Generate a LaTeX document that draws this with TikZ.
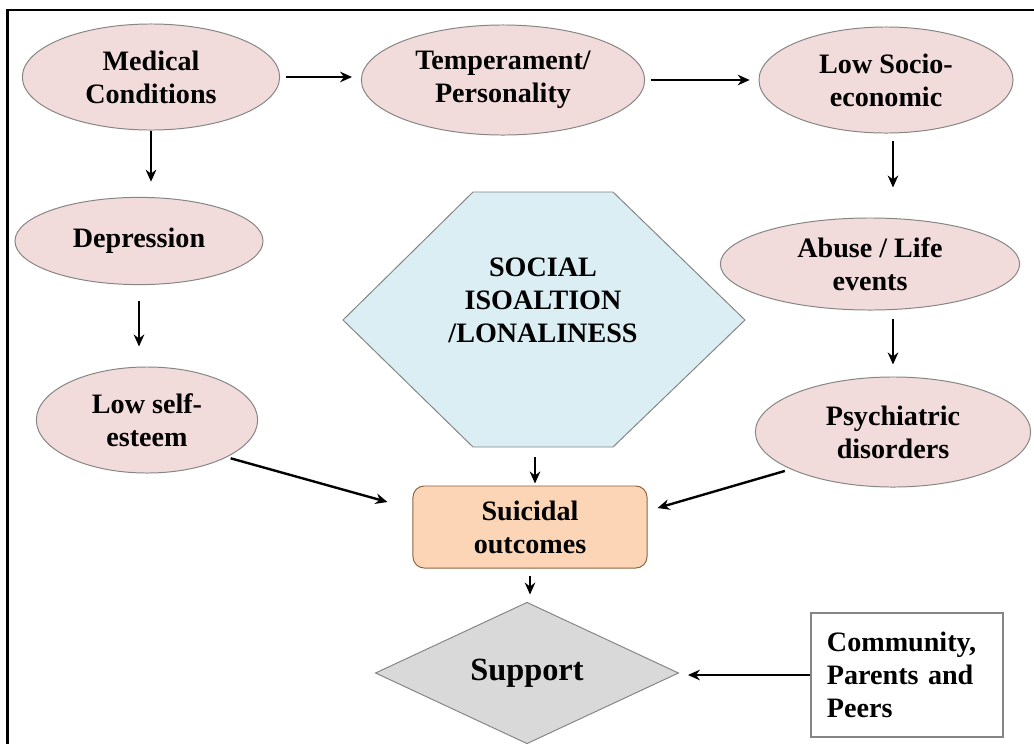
\documentclass[tikz,border=0pt]{standalone}
\usepackage{fontspec}
\setmainfont{Liberation Serif}
\usepackage{tikz}
\usetikzlibrary{arrows.meta,shapes.geometric,calc}
\definecolor{pinkfill}{HTML}{F2DCDB}
\definecolor{hexfill}{HTML}{DBEEF4}
\definecolor{outfill}{HTML}{FBD5B5}
\definecolor{outbrown}{HTML}{8E6441}
\definecolor{supfill}{HTML}{D9D9D9}
\definecolor{edgegray}{HTML}{858585}

\begin{document}
\begin{tikzpicture}[x=0.025cm,y=-0.025cm,>={Stealth[length=8.5pt,width=7.5pt]},
  font=\fontsize{20}{23.5}\selectfont\bfseries,
  oval/.style={ellipse,draw=edgegray,fill=pinkfill,line width=0.7pt,align=center,inner sep=0pt},
  outcome/.style={draw=outbrown,fill=outfill,line width=0.7pt,rounded corners=8pt,align=center,
                  minimum width=5.85cm,minimum height=2.05cm},
  help/.style={diamond,draw=edgegray,fill=supfill,line width=0.7pt,inner sep=0pt,
               minimum width=7.58cm,minimum height=3.28cm},
  peers/.style={draw=edgegray,fill=white,line width=1.1pt,align=left,text width=4cm,
                minimum height=3.1cm,inner sep=0.4cm},
  arr/.style={->,line width=1.7pt}]
\useasboundingbox (0,0) rectangle (1034,744);
\draw[line width=2pt] (7.5,744) -- (7.5,10) -- (1034,10);

\node[oval,minimum width=6.43cm,minimum height=2.65cm] (med) at (151,77) {Medical\\Conditions};
\node[oval,minimum width=7.08cm,minimum height=2.75cm] (temp) at (503,80) {Temperament/\\Personality};
\node[oval,minimum width=6.35cm,minimum height=2.65cm] (socio) at (886,80) {Low Socio-\\economic};
\node[oval,minimum width=6.2cm,minimum height=2.18cm] (dep) at (139,241) {Depression};
\node[oval,minimum width=7.48cm,minimum height=2.3cm] (abuse) at (870,264) {Abuse / Life\\events};
\node[oval,minimum width=5.53cm,minimum height=2.65cm] (selfe) at (147,420) {Low self-\\esteem};
\node[oval,minimum width=6.88cm,minimum height=2.75cm] (psych) at (893,432) {Psychiatric\\disorders};

\draw[draw=edgegray,fill=hexfill,line width=0.7pt] (343,320) -- (473,192) -- (613,192) -- (745,320)
  -- (613,447) -- (473,447) -- cycle;
\node[align=center] (iso) at (543,300) {SOCIAL\\ISOALTION\\/LONALINESS};
\coordinate (isob) at (535,447);

\node[outcome] (suic) at (530,527) {Suicidal\\outcomes};
\node[help,font=\fontsize{23}{26}\selectfont\bfseries] (sup) at (527,673) {Support};
\node[peers] (comm) at (907,675) {Community,\\Parents and\\Peers};

\draw[arr,shorten <=0.15cm,shorten >=0.22cm] (med.east) -- (med.east -| temp.west);
\draw[arr,shorten <=0.14cm,shorten >=0.22cm] (temp.east) -- (temp.east -| socio.west);
\draw[arr,shorten >=0.38cm] (med.south) -- (med.south |- dep.north);
\draw[arr,shorten <=0.39cm,shorten >=0.5cm] (dep.south) -- (dep.south |- selfe.north);
\draw[arr,shorten <=0.18cm,shorten >=0.75cm] (socio.south -| psych.north) -- (abuse.north -| psych.north);
\draw[arr,shorten <=0.2cm,shorten >=0.3cm] (abuse.south -| psych.north) -- (psych.north);
\draw[arr,shorten <=0.1cm] (selfe.-25) -- ($(suic.west)+(-25,-25)$);
\draw[arr,shorten <=0.15cm] (psych.200) -- ($(suic.east)+(10,-19)$);
\draw[arr,shorten <=0.25cm,shorten >=0.05cm] (isob) -- (isob |- suic.north);
\draw[arr,shorten <=0.18cm,shorten >=0.18cm] (suic.south) -- (suic.south |- sup.north);
\draw[arr,shorten >=0.22cm] (comm.west) -- (comm.west -| sup.east);
\end{tikzpicture}
\end{document}
